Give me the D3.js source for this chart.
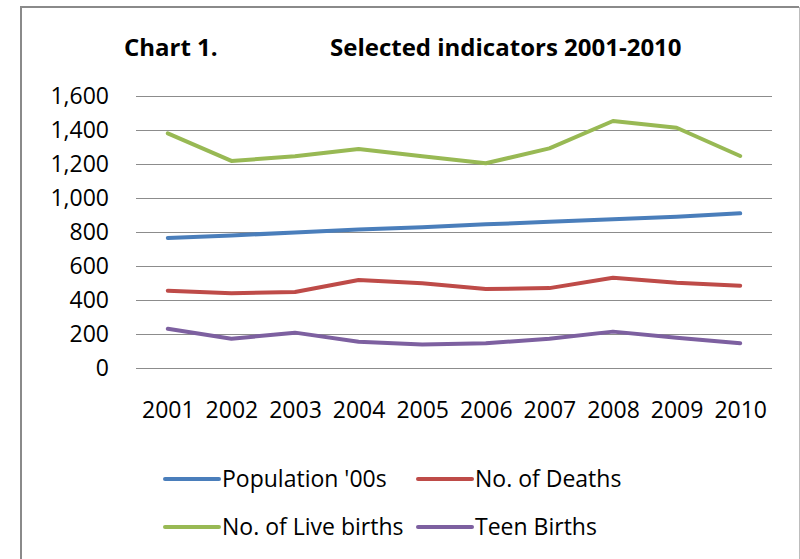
<!DOCTYPE html>
<html>
<head>
<meta charset="utf-8">
<script src="https://cdn.jsdelivr.net/npm/d3@7"></script>
<style>
  body { margin: 0; background: #fff; }
  text { font-family: "Open Sans", Lato, sans-serif; fill: #000; }
</style>
</head>
<body>
<svg class="chart" width="800" height="559"></svg>
<script>
// chart values
var years = ["2001","2002","2003","2004","2005","2006","2007","2008","2009","2010"];
var population = [765, 780, 797, 814, 828, 845, 860, 875, 890, 910];
var deaths     = [455, 440, 447, 518, 498, 465, 470, 531, 502, 484];
var live_births = [1380, 1218, 1245, 1288, 1245, 1204, 1292, 1453, 1413, 1247];
var teen_births = [231, 172, 208, 155, 138, 145, 172, 214, 178, 145];
var y_ticks = [0, 200, 400, 600, 800, 1000, 1200, 1400, 1600];

var series = [
  {name: "Population '00s", values: population, color: "#4a7ebb"},
  {name: "No. of Deaths", values: deaths, color: "#be4b48"},
  {name: "No. of Live births", values: live_births, color: "#98b954"},
  {name: "Teen Births", values: teen_births, color: "#7d60a0"}
];

var chart = d3.select(".chart"),
    plot = {left: 136, right: 772, top: 96, bottom: 368};

var x = d3.scalePoint()
    .domain(years)
    .range([plot.left, plot.right])
    .padding(0.5);
var y = d3.scaleLinear()
    .domain([0, 1600])
    .range([plot.bottom, plot.top]);

// outer frame
chart.append("line").attr("x1", 21).attr("y1", 7).attr("x2", 799).attr("y2", 7)
  .attr("stroke", "#8a8a8a").attr("stroke-width", 2);
chart.append("line").attr("x1", 21).attr("y1", 6).attr("x2", 21).attr("y2", 559)
  .attr("stroke", "#8a8a8a").attr("stroke-width", 2);
chart.append("line").attr("x1", 799.5).attr("y1", 7).attr("x2", 799.5).attr("y2", 559)
  .attr("stroke", "#bdbdbd").attr("stroke-width", 1);

// title
chart.append("text").attr("x", 124).attr("y", 56)
  .style("font-size", "24px").style("font-weight", "bold").text("Chart 1.");
chart.append("text").attr("x", 330).attr("y", 56)
  .style("font-size", "24px").style("font-weight", "bold").text("Selected indicators 2001-2010");

var y_axis = chart.append("g")
    .attr("class", "axis axis--y")
    .attr("transform", "translate(" + plot.left + ",0)")
    .call(d3.axisLeft(y).tickValues(y_ticks).tickFormat(d3.format(","))
      .tickSize(-(plot.right - plot.left)).tickPadding(27));
y_axis.select(".domain").remove();
y_axis.selectAll(".tick line").attr("stroke", "#8c8c8c");
y_axis.selectAll(".tick text").style("font-size", "23px").attr("font-family", null);

var x_axis = chart.append("g")
    .attr("class", "axis axis--x")
    .attr("transform", "translate(0," + plot.bottom + ")")
    .call(d3.axisBottom(x).tickSize(0).tickPadding(34));
x_axis.select(".domain").remove();
x_axis.selectAll(".tick text").style("font-size", "23px").attr("font-family", null);

var line = d3.line()
    .x(function(d, i) { return x(years[i]); })
    .y(function(d) { return y(d); });

chart.selectAll(".series")
    .data(series)
  .enter().append("path")
    .attr("class", "series")
    .attr("fill", "none")
    .attr("stroke", function(d) { return d.color; })
    .attr("stroke-width", 4)
    .attr("stroke-linejoin", "round")
    .attr("stroke-linecap", "round")
    .attr("d", function(d) { return line(d.values); });

// legend, two columns by two rows
var legend = chart.selectAll(".legend_item")
    .data(series)
  .enter().append("g")
    .attr("class", "legend_item")
    .attr("transform", function(d, i) {
      return "translate(" + (i % 2 ? 418 : 165) + "," + (i < 2 ? 479 : 527) + ")"; });

legend.append("line")
    .attr("x1", 0).attr("x2", 54)
    .attr("stroke", function(d) { return d.color; })
    .attr("stroke-width", 4)
    .attr("stroke-linecap", "round");

legend.append("text")
    .attr("x", 57)
    .attr("dy", "0.36em")
    .style("font-size", "23px")
    .text(function(d) { return d.name; });
</script>
</body>
</html>
